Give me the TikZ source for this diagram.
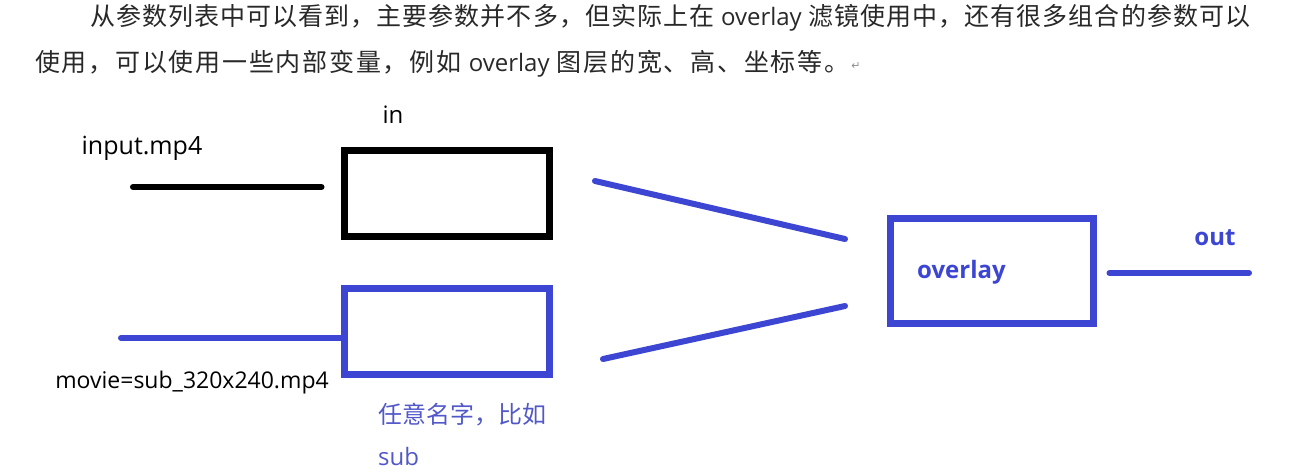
\documentclass[tikz,border=0pt]{standalone}
\usepackage{fontspec}
\setmainfont{Open Sans}
\newfontfamily\cjk{Noto Sans CJK SC}
\newfontfamily\cjkone[LetterSpace=4.2]{Noto Sans CJK SC}
\newfontfamily\cjktwo[LetterSpace=7]{Noto Sans CJK SC}
\newfontfamily\symb{DejaVu Sans}
\definecolor{lineblue}{RGB}{60,70,210}
\definecolor{textblue}{RGB}{82,88,200}
\definecolor{headgray}{RGB}{40,40,40}

\begin{document}
\begin{tikzpicture}[x=1pt,y=-1pt,
	box/.style={draw,line width=7pt,inner sep=0pt,minimum width=205pt,minimum height=86pt},
	wire/.style={line width=6pt,line cap=round},
	lbl/.style={inner sep=0pt,font=\fontsize{24}{28}\selectfont},
	head/.style={inner sep=0pt,anchor=west,text=headgray,font=\fontsize{25}{30}\selectfont}]
		\useasboundingbox (0,0) rectangle (1303,472);
		% header text
		\node[head] (line1) at (90,18) {\cjkone 从参数列表中可以看到，主要参数并不多，但实际上在 {\rmfamily\fontsize{24}{28}\selectfont overlay} 滤镜使用中，还有很多组合的参数可以};
		\node[head] (line2) at (35,64) {\cjktwo 使用，可以使用一些内部变量，例如 {\rmfamily\fontsize{24}{28}\selectfont overlay} 图层的宽、高、坐标等。};
		\node[inner sep=0pt,text=black!45,font=\fontsize{11}{12}\selectfont\symb] (retmark) at (856,66) {↵};
		
		% boxes
		\node[box] (inbox) at (447,193.5) {};
		\node[box,draw=lineblue] (subbox) at (446.5,331.5) {};
		\node[box,draw=lineblue,minimum width=203pt,minimum height=105pt] (ovbox) at (992,271) {};
		
		% labels
		\node[lbl,font=\fontsize{25}{30}\selectfont] (inname) at (142,148) {input.mp4};
		\node[lbl] (inlbl) at (393,115) {in};
		\node[lbl,font=\fontsize{23}{28}\selectfont] (movie) at (192,383) {movie=sub\_320x240.mp4};
		\node[lbl,anchor=west,text=textblue] (subname) at (378,415) {\cjk 任意名字，比如};
		\node[lbl,anchor=west,text=textblue] (sublbl) at (378,456) {sub};
		\node[lbl,anchor=west,text=lineblue,font={\fontsize{24}{28}\selectfont\bfseries}] (ovlbl) at (917,272) {overlay};
		\node[lbl,text=lineblue,font={\fontsize{24}{28}\selectfont\bfseries}] (outlbl) at (1215,238) {out};
		
		% wires
		\coordinate (inA) at (133,187);
		\coordinate (subA) at (121,338);
		\coordinate (upA) at (595,181);
		\coordinate (upB) at (845,239);
		\coordinate (lowA) at (603,359);
		\coordinate (lowB) at (845,306);
		\coordinate (outB) at (1249,273);
		\draw[wire,shorten >=19.5pt] (inA) -- (inA -| inbox.west);
		\draw[wire,lineblue] (subA) -- (subA -| subbox.west);
		\draw[wire,lineblue] (upA) -- (upB);
		\draw[wire,lineblue] (lowA) -- (lowB);
		\draw[wire,lineblue,shorten <=12.5pt] (outB -| ovbox.east) -- (outB);
	\end{tikzpicture}
\end{document}
